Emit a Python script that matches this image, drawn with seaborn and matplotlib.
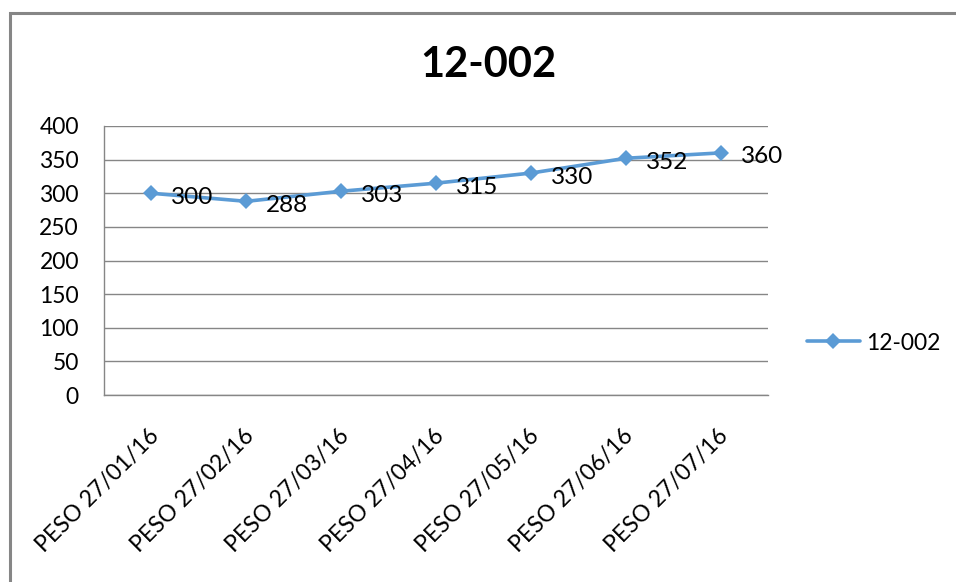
import matplotlib
matplotlib.use("Agg")
import matplotlib.pyplot as plt
import matplotlib.transforms as mtransforms
import seaborn as sns
import pandas as pd
from matplotlib.patches import Rectangle

categories = ["PESO 27/01/16", "PESO 27/02/16", "PESO 27/03/16", "PESO 27/04/16",
              "PESO 27/05/16", "PESO 27/06/16", "PESO 27/07/16"]
values = [300, 288, 303, 315, 330, 352, 360]
series_name = "12-002"
yticks = [0, 50, 100, 150, 200, 250, 300, 350, 400]

sns.set_theme(style="white")
plt.rcParams['font.family'] = ['Lato', 'DejaVu Sans']
plt.rcParams['text.color'] = 'black'

df = pd.DataFrame({"x": categories, "y": values, "s": series_name})

fig = plt.figure(figsize=(9.56, 5.82), dpi=100)
ax = fig.add_axes([104/956, 1-395/582, (768-104)/956, (395-126)/582])

color = "#5B9BD5"
sns.lineplot(data=df, x="x", y="y", hue="s", palette=[color], marker="D",
             markersize=8.5, linewidth=2.6, markeredgewidth=0, sort=False, ax=ax,
             legend=True)

ax.set_xlim(-0.5, len(categories) - 0.5)
ax.set_ylim(0, 400)
ax.set_yticks(yticks)
ax.set_yticklabels([str(v) for v in yticks], fontsize=16.5, color="black")
ax.yaxis.grid(True, color="#868686", linewidth=1)
ax.xaxis.grid(False)
ax.set_xlabel("")
ax.set_ylabel("")
ax.tick_params(axis="y", length=0, pad=18, colors="black")
ax.tick_params(axis="x", length=0, pad=22, colors="black")
for sp in ["top", "right"]:
    ax.spines[sp].set_visible(False)
for sp in ["left", "bottom"]:
    ax.spines[sp].set_color("#868686")
    ax.spines[sp].set_linewidth(1)

ax.set_xticks(range(len(categories)))
ax.set_xticklabels(categories, rotation=45, ha="right", rotation_mode="anchor",
                   fontsize=16.5, color="black")
shift = mtransforms.ScaledTranslation(-3/100, 0, fig.dpi_scale_trans)
for lab in ax.get_xticklabels():
    lab.set_transform(lab.get_transform() + shift)

for i, v in enumerate(values):
    ax.annotate(str(v), (i, v), xytext=(20, -4), textcoords="offset pixels",
                ha="left", va="center", fontsize=17.5, color="black")

leg = ax.legend(loc="center left", frameon=False, fontsize=16.5,
                handlelength=2.3, handletextpad=0.3, borderaxespad=0,
                borderpad=0)
leg.set_bbox_to_anchor((807/956, 1-343/582), transform=fig.transFigure)
for t in leg.get_texts():
    t.set_color("black")

fig.text(488/956, 1-65/582, "12-002", ha="center", va="center",
         fontsize=30, fontweight="bold", color="black")

fig.patches.append(Rectangle((10/956, -0.02), 1.05, 1-13/582+0.02,
                             transform=fig.transFigure, fill=False,
                             edgecolor="#868686", linewidth=2.2))

fig.savefig("out.png", dpi=100)
